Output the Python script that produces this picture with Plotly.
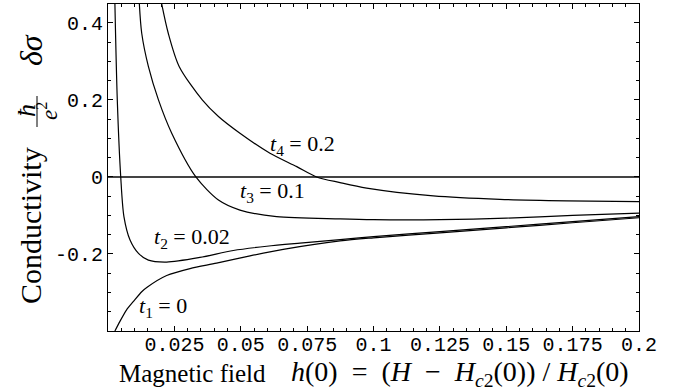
import plotly.graph_objects as go

# ---- data ----
t1_x = [0.0026, 0.0045, 0.007, 0.0095, 0.0127, 0.0146, 0.0221, 0.0309, 0.0409, 0.0535, 0.066, 0.0874, 0.1, 0.125, 0.15, 0.175, 0.2]
t1_y = [-0.40, -0.375, -0.345, -0.324, -0.298, -0.287, -0.256, -0.238, -0.224, -0.205, -0.188, -0.166, -0.158, -0.145, -0.132, -0.119, -0.106]

t2_x = [0.0026, 0.0035, 0.0048, 0.006, 0.0083, 0.0114, 0.0152, 0.0221, 0.0346, 0.0472, 0.0598, 0.0723, 0.0874, 0.1, 0.125, 0.15, 0.175, 0.2]
t2_y = [0.45, 0.20, 0.0, -0.103, -0.164, -0.198, -0.216, -0.221, -0.209, -0.191, -0.180, -0.172, -0.163, -0.155, -0.142, -0.129, -0.116, -0.103]

t3_x = [0.0118, 0.0127, 0.0152, 0.019, 0.024, 0.0331, 0.0416, 0.0497, 0.0635, 0.0874, 0.1, 0.125, 0.15, 0.175, 0.2]
t3_y = [0.45, 0.373, 0.287, 0.20, 0.1135, 0.0, -0.060, -0.086, -0.103, -0.109, -0.111, -0.111, -0.107, -0.100, -0.094]

t4_x = [0.0202, 0.0227, 0.0268, 0.0355, 0.0416, 0.0497, 0.061, 0.0711, 0.0786, 0.0874, 0.0974, 0.1225, 0.1476, 0.1727, 0.2]
t4_y = [0.45, 0.373, 0.287, 0.20, 0.157, 0.1135, 0.0615, 0.0268, 0.0, -0.0147, -0.029, -0.049, -0.058, -0.062, -0.064]

curve_labels = ["<i>t</i><sub>1</sub> = 0", "<i>t</i><sub>2</sub> = 0.02",
                "<i>t</i><sub>3</sub> = 0.1", "<i>t</i><sub>4</sub> = 0.2"]
label_x = [0.0207, 0.0316, 0.0621, 0.0734]
label_y = [-0.338, -0.158, -0.039, 0.083]

x_tickvals = [0.025, 0.05, 0.075, 0.1, 0.125, 0.15, 0.175, 0.2]
x_ticktext = ["0.025", "0.05", "0.075", "0.1", "0.125", "0.15", "0.175", "0.2"]
y_tickvals = [-0.2, 0, 0.2, 0.4]
y_ticktext = ["-0.2", "0", "0.2", "0.4"]

SERIF = "Liberation Serif"
MONO = "Liberation Mono"

L, R, T, B = 108, 41, 4, 61
W, H = 680, 392
PW, PH = W - L - R, H - T - B


def px(xp):
    return (xp - L) / PW


def py(yp):
    return (H - B - yp) / PH


fig = go.Figure()
for xs, ys in [(t1_x, t1_y), (t2_x, t2_y), (t3_x, t3_y), (t4_x, t4_y)]:
    fig.add_trace(go.Scatter(x=xs, y=ys, mode="lines",
                             line=dict(color="black", width=1.2, shape="spline", smoothing=0.8,
                                       simplify=False),
                             showlegend=False, hoverinfo="skip"))

for txt, lx, ly in zip(curve_labels, label_x, label_y):
    fig.add_annotation(x=lx, y=ly, xref="x", yref="y", text=txt, showarrow=False,
                       xanchor="center", yanchor="middle",
                       font=dict(family=SERIF, size=22, color="black"))

# y-axis title pieces (rotated)
fig.add_annotation(xref="paper", yref="paper", x=px(31), y=py(226), textangle=-90,
                   xanchor="center", yanchor="middle", text="Conductivity",
                   showarrow=False, font=dict(family=SERIF, size=30, color="black"))
fig.add_annotation(xref="paper", yref="paper", x=px(26), y=py(111), textangle=-90,
                   xanchor="center", yanchor="middle", text="<i>ħ</i>",
                   showarrow=False, font=dict(family=SERIF, size=26, color="black"))
fig.add_annotation(xref="paper", yref="paper", x=px(47), y=py(111), textangle=-90,
                   xanchor="center", yanchor="middle", text="<i>e</i><sup>2</sup>",
                   showarrow=False, font=dict(family=SERIF, size=23, color="black"))
fig.add_shape(type="line", xref="paper", yref="paper", x0=px(37), x1=px(37),
              y0=py(96), y1=py(127), line=dict(color="black", width=1))
fig.add_annotation(xref="paper", yref="paper", x=px(31), y=py(50), textangle=-90,
                   xanchor="center", yanchor="middle", text="<i>δσ</i>",
                   showarrow=False, font=dict(family=SERIF, size=32, color="black"))

# x-axis title pieces
fig.add_annotation(xref="paper", yref="paper", x=px(192), y=py(373),
                   xanchor="center", yanchor="middle", text="Magnetic field",
                   showarrow=False, font=dict(family=SERIF, size=25, color="black"))
fig.add_annotation(xref="paper", yref="paper", x=px(289), y=py(373),
                   xanchor="left", yanchor="middle",
                   text="<i>h</i>(0)&nbsp;&nbsp;=&nbsp;&nbsp;(<i>H</i>&nbsp;&nbsp;−&nbsp;&nbsp;<i>H</i><sub><i>c</i>2</sub>(0))&nbsp;/&nbsp;<i>H</i><sub><i>c</i>2</sub>(0)",
                   showarrow=False, font=dict(family=SERIF, size=28, color="black"))

fig.update_xaxes(range=[0, 0.2], tickvals=x_tickvals, ticktext=x_ticktext,
                 ticks="inside", ticklen=5, tickwidth=1, tickcolor="black",
                 minor=dict(dtick=0.005, ticks="inside", ticklen=3, tickcolor="black", showgrid=False),
                 showline=True, linecolor="black", linewidth=1, mirror="ticks",
                 showgrid=False, zeroline=False, automargin=False,
                 ticklabelstandoff=-5,
                 tickfont=dict(family=MONO, size=20, color="black"))
fig.update_yaxes(range=[-0.4, 0.449], tickvals=y_tickvals, ticktext=y_ticktext,
                 ticks="inside", ticklen=5, tickwidth=1, tickcolor="black",
                 minor=dict(dtick=0.05, ticks="inside", ticklen=3, tickcolor="black", showgrid=False),
                 showline=True, linecolor="black", linewidth=1, mirror="ticks",
                 showgrid=False, zeroline=True, zerolinecolor="#444444", zerolinewidth=1.5,
                 automargin=False,
                 tickfont=dict(family=MONO, size=20, color="black"))

fig.update_layout(width=W, height=H, margin=dict(l=L, r=R, t=T, b=B),
                  plot_bgcolor="white", paper_bgcolor="white")

fig.write_html("out.html", config={"displayModeBar": False},
               post_script="document.body.style.margin='0';")
